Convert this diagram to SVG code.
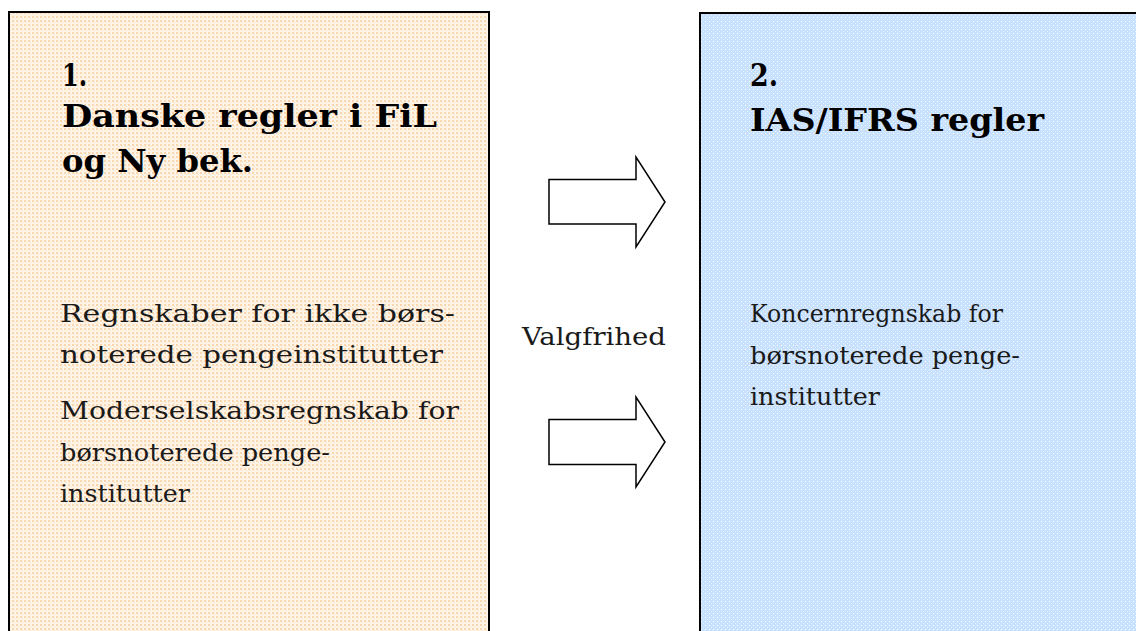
<svg xmlns="http://www.w3.org/2000/svg" width="1136" height="631" viewBox="0 0 1136 631">
  <defs>
    <pattern id="peach" patternUnits="userSpaceOnUse" width="4" height="4">
      <rect width="4" height="4" fill="#FFF4E8"/>
      <rect x="0" y="0" width="2" height="2" fill="#FBD6AE"/>
      <rect x="2" y="2" width="1" height="1" fill="#FDE3C6"/>
    </pattern>
    <pattern id="blue" patternUnits="userSpaceOnUse" width="4" height="4">
      <rect width="4" height="4" fill="#C8E1FF"/>
      <rect x="1" y="1" width="1" height="1" fill="#FFFFFF"/>
      <rect x="3" y="3" width="1" height="1" fill="#E6F1FF"/>
    </pattern>
  </defs>
  <style>
    .box { stroke: #000; stroke-width: 2; }
    .arrow { fill: #fff; stroke: #000; stroke-width: 1.5; stroke-linejoin: miter; }
    .head { font-family: "DejaVu Serif", "Liberation Serif", serif; font-weight: bold; font-size: 31px; fill: #000; }
    .body { font-family: "DejaVu Serif", "Liberation Serif", serif; font-size: 25px; fill: #1a1a1a; }
  </style>
  <g id="node-danske">
    <rect class="box" x="9" y="12" width="480" height="700" fill="url(#peach)"/>
    <text class="head" x="62" y="86" textLength="25" lengthAdjust="spacingAndGlyphs">1.</text>
    <text class="head" x="62" y="127" textLength="375" lengthAdjust="spacingAndGlyphs">Danske regler i FiL</text>
    <text class="head" x="62" y="172" textLength="191" lengthAdjust="spacingAndGlyphs">og Ny bek.</text>
    <text class="body" x="60" y="322" textLength="395" lengthAdjust="spacingAndGlyphs">Regnskaber for ikke børs-</text>
    <text class="body" x="60" y="363" textLength="383" lengthAdjust="spacingAndGlyphs">noterede pengeinstitutter</text>
    <text class="body" x="60" y="419" textLength="399" lengthAdjust="spacingAndGlyphs">Moderselskabsregnskab for</text>
    <text class="body" x="60" y="461" textLength="270" lengthAdjust="spacingAndGlyphs">børsnoterede penge-</text>
    <text class="body" x="60" y="502" textLength="130" lengthAdjust="spacingAndGlyphs">institutter</text>
  </g>
  <g id="node-ifrs">
    <rect class="box" x="700" y="13" width="480" height="700" fill="url(#blue)"/>
    <text class="head" x="750" y="86" textLength="28" lengthAdjust="spacingAndGlyphs">2.</text>
    <text class="head" x="750" y="131" textLength="294" lengthAdjust="spacingAndGlyphs">IAS/IFRS regler</text>
    <text class="body" x="750" y="322" textLength="253" lengthAdjust="spacingAndGlyphs">Koncernregnskab for</text>
    <text class="body" x="750" y="364" textLength="270" lengthAdjust="spacingAndGlyphs">børsnoterede penge-</text>
    <text class="body" x="750" y="405" textLength="130" lengthAdjust="spacingAndGlyphs">institutter</text>
  </g>
  <g id="connectors">
    <polygon class="arrow" points="549,179.5 636,179.5 636,157 665,202 636,247 636,224 549,224"/>
    <polygon class="arrow" points="549,419.5 636,419.5 636,397 665,442 636,487 636,464.5 549,464.5"/>
    <text class="body" x="522" y="345" textLength="144" lengthAdjust="spacingAndGlyphs">Valgfrihed</text>
  </g>
</svg>
